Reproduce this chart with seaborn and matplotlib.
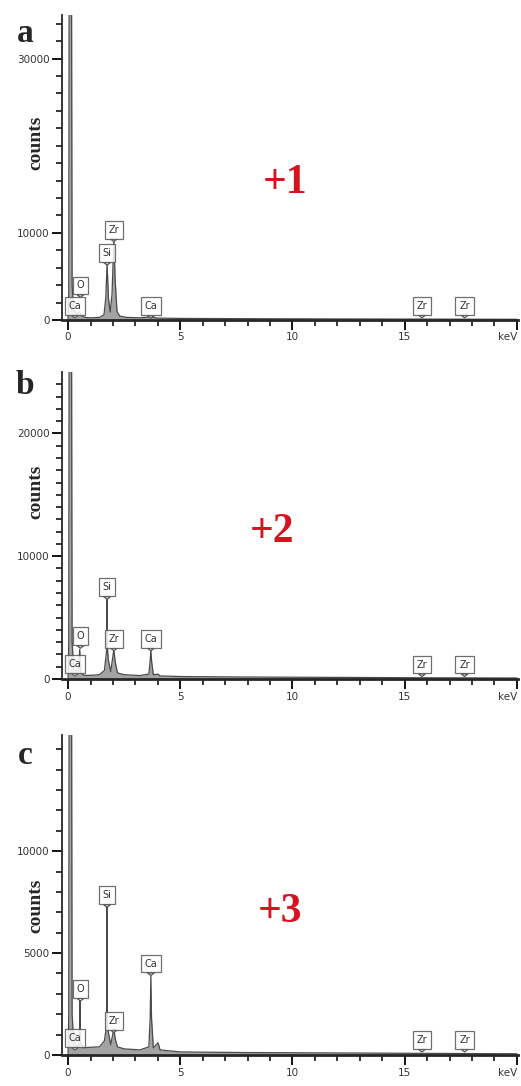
import matplotlib
matplotlib.use("Agg")
import matplotlib.pyplot as plt
import seaborn as sns

# ---- data ----
energy_a = [0.00, 0.03, 0.06, 0.14, 0.18, 0.25, 0.34, 0.45, 0.52, 0.60, 0.75, 1.00, 1.40, 1.60, 1.68,
            1.74, 1.80, 1.88, 1.96, 2.04, 2.10, 2.18, 2.30, 2.60, 3.20, 3.69, 4.00, 5.00, 8.00, 12.0, 16.0, 20.0]
counts_a = [0, 3000, 60000, 60000, 4000, 1200, 900, 700, 1000, 500, 300, 250, 300, 600, 2500,
            6500, 2500, 900, 3000, 9200, 4500, 1000, 450, 300, 250, 350, 220, 180, 150, 120, 100, 80]

energy_b = [0.00, 0.03, 0.06, 0.14, 0.18, 0.25, 0.34, 0.45, 0.52, 0.58, 0.70, 1.00, 1.40, 1.62, 1.70,
            1.73, 1.74, 1.75, 1.80, 1.90, 1.97, 2.04, 2.10, 2.20, 2.50, 3.20, 3.60, 3.66, 3.69, 3.72,
            3.80, 4.01, 4.10, 5.00, 8.00, 12.0, 16.0, 20.0]
counts_b = [0, 3000, 45000, 45000, 3000, 900, 700, 600, 2400, 500, 300, 300, 350, 700, 2000,
            2600, 6500, 2600, 1500, 600, 1500, 2400, 1400, 500, 350, 280, 400, 1500, 2400, 1500,
            350, 400, 250, 200, 160, 130, 100, 80]

energy_c = [0.00, 0.03, 0.06, 0.14, 0.18, 0.25, 0.34, 0.45, 0.51, 0.53, 0.56, 0.70, 1.00, 1.40, 1.62,
            1.70, 1.73, 1.74, 1.75, 1.80, 1.90, 1.97, 2.04, 2.10, 2.20, 2.50, 3.20, 3.60, 3.66, 3.69,
            3.72, 3.80, 4.01, 4.10, 5.00, 8.00, 12.0, 16.0, 20.0]
counts_c = [0, 2000, 30000, 30000, 2000, 700, 500, 400, 900, 2650, 600, 350, 380, 400, 700,
            1300, 1500, 7300, 1500, 1100, 500, 900, 1300, 800, 400, 300, 250, 400, 1800, 3900,
            1800, 350, 600, 250, 150, 120, 100, 80, 60]

peak_names = ["Ca", "O", "Si", "Zr", "Ca", "Zr", "Zr"]
peak_energy = [0.30, 0.55, 1.74, 2.04, 3.69, 15.77, 17.67]
tip_a = [250, 2600, 6300, 9000, 200, 250, 250]
tip_b = [250, 2500, 6500, 2300, 2300, 200, 200]
tip_c = [250, 2650, 7250, 1100, 3900, 150, 150]

panels = [
    dict(letter="a", tag="+1", x=energy_a, y=counts_a, tips=tip_a, ymax=35000,
         yticks=[0, 10000, 30000], minor=2000, pos=(15, 320), tag_xy=(285, 183), letter_y=33, counts_y=143),
    dict(letter="b", tag="+2", x=energy_b, y=counts_b, tips=tip_b, ymax=25000,
         yticks=[0, 10000, 20000], minor=1000, pos=(372, 679), tag_xy=(272, 532), letter_y=386, counts_y=492),
    dict(letter="c", tag="+3", x=energy_c, y=counts_c, tips=tip_c, ymax=15700,
         yticks=[0, 5000, 10000], minor=1000, pos=(735, 1055), tag_xy=(280, 912), letter_y=756, counts_y=906),
]

sns.set_style("ticks")
plt.rcParams["font.family"] = ["DejaVu Sans"]

W, H = 521, 1086
fig = plt.figure(figsize=(W / 100, H / 100), dpi=100)
serif = ["Liberation Serif", "DejaVu Serif"]

for p in panels:
    top, bot = p["pos"]
    ax = fig.add_axes([62 / W, 1 - bot / H, (518 - 62) / W, (bot - top) / H])
    ax.fill_between(p["x"], p["y"], color="#a3a3a3", lw=0)
    sns.lineplot(x=p["x"], y=p["y"], ax=ax, color="#4a4a4a", lw=0.9, sort=False, estimator=None)
    ax.set_xlim(-0.27, 20.05)
    ax.set_ylim(0, p["ymax"])

    for s in ["top", "right"]:
        ax.spines[s].set_visible(False)
    ax.spines["left"].set_linewidth(1.3)
    ax.spines["bottom"].set_linewidth(2.0)

    ax.set_xticks([0, 5, 10, 15, 20])
    ax.set_xticks(range(0, 21), minor=True)
    ax.set_xticklabels(["0", "5", "10", "15", "keV"])
    ax.get_xticklabels()[-1].set_ha("right")
    ax.set_yticks(p["yticks"])
    ax.set_yticks(range(0, int(p["ymax"]), p["minor"]), minor=True)
    ax.set_yticklabels([str(v) for v in p["yticks"]])
    ax.tick_params(which="major", length=7, width=1.3, labelsize=7.5, colors="black",
                   labelcolor="#333333", pad=2)
    ax.tick_params(which="minor", length=4.5, width=1.3)
    ax.set_xlabel("")
    ax.set_ylabel("")

    for name, e, tip in zip(peak_names, peak_energy, p["tips"]):
        ax.annotate(name, xy=(e, tip), xytext=(0, 5), textcoords="offset points",
                    ha="center", va="bottom", fontsize=7, color="#333333",
                    bbox=dict(boxstyle="square,pad=0.4", fc="white", ec="#555555", lw=0.9, alpha=0.85),
                    arrowprops=dict(arrowstyle="wedge,tail_width=0.7,shrink_factor=0.5",
                                    fc="white", ec="#555555", lw=0.9, shrinkA=0, shrinkB=0))

    fig.text(25 / W, 1 - p["letter_y"] / H, p["letter"], fontsize=24, fontweight="bold",
             family=serif, ha="center", va="center")
    fig.text(36 / W, 1 - p["counts_y"] / H, "counts", fontsize=14, fontweight="bold",
             family=serif, rotation=90, ha="center", va="center")
    tx, ty = p["tag_xy"]
    fig.text(tx / W, 1 - ty / H, p["tag"], fontsize=30, fontweight="bold", family=serif,
             color="#d8121f", ha="center", va="center")

fig.savefig("out.png", dpi=100, facecolor="white")
